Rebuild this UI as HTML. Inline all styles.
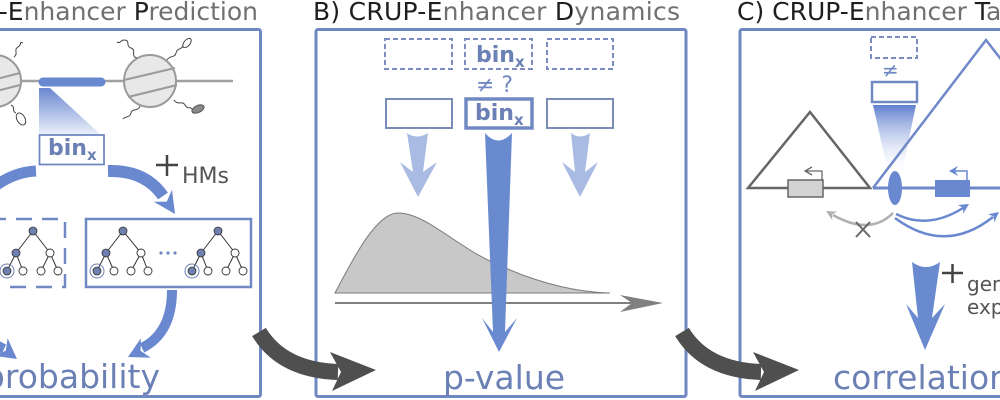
<!DOCTYPE html>
<html><head><meta charset="utf-8"><style>
html,body{margin:0;padding:0;background:#fff;}
svg{display:block;}
text{font-family:"DejaVu Sans","Liberation Sans",sans-serif;}
</style></head><body>
<svg width="1000" height="400" viewBox="0 0 1000 400" xmlns="http://www.w3.org/2000/svg">
<defs>
<linearGradient id="gA" x1="0" y1="0" x2="0" y2="1">
<stop offset="0" stop-color="#6a88d0"/><stop offset="1" stop-color="#e9eef9"/>
</linearGradient>
<linearGradient id="gC" x1="0" y1="0" x2="0" y2="1">
<stop offset="0" stop-color="#5f80cf"/><stop offset="1" stop-color="#ffffff" stop-opacity="0.2"/>
</linearGradient>
</defs>
<rect width="1000" height="400" fill="#fff"/>

<!-- Titles -->
<text x="258" y="20" font-size="25" text-anchor="end"><tspan fill="#1e1e1e">A) CRUP-E</tspan><tspan fill="#707070">nhancer </tspan><tspan fill="#1e1e1e">P</tspan><tspan fill="#707070">rediction</tspan></text>
<text x="313" y="20" font-size="25" textLength="367"><tspan fill="#1e1e1e">B) CRUP-E</tspan><tspan fill="#707070">nhancer </tspan><tspan fill="#1e1e1e">D</tspan><tspan fill="#707070">ynamics</tspan></text>
<text x="737" y="20" font-size="25"><tspan fill="#1e1e1e">C) CRUP-E</tspan><tspan fill="#707070">nhancer </tspan><tspan fill="#1e1e1e">T</tspan><tspan fill="#707070">argets</tspan></text>

<!-- Panel borders -->
<rect x="-10" y="29.5" width="270.5" height="367" rx="2" fill="none" stroke="#6f87c2" stroke-width="3"/>
<rect x="316" y="29.5" width="370" height="367" rx="2" fill="none" stroke="#6f87c2" stroke-width="3"/>
<rect x="740" y="29.5" width="300" height="367" rx="2" fill="none" stroke="#6f87c2" stroke-width="3"/>

<!-- ============ Panel A ============ -->
<line x1="0" y1="81" x2="233" y2="81" stroke="#a0a0a0" stroke-width="2.5"/>
<!-- left nucleosome -->
<circle cx="-5" cy="81" r="26" fill="#e8e8e8" stroke="#9a9a9a" stroke-width="2"/>
<line x1="-31" y1="86" x2="20" y2="73" stroke="#9a9a9a" stroke-width="2"/>
<line x1="-27" y1="97" x2="20" y2="85" stroke="#9a9a9a" stroke-width="2"/>
<path d="M14,57 C19,53 13,50 18,47 C23,44 18,41 23,43" fill="none" stroke="#444" stroke-width="1"/>
<path d="M11,105 C16,107 11,111 16,113" fill="none" stroke="#444" stroke-width="1"/>
<ellipse cx="21" cy="119" rx="4" ry="6.5" transform="rotate(-30 21 119)" fill="#fff" stroke="#444" stroke-width="1"/>
<!-- right nucleosome -->
<circle cx="150" cy="81" r="26" fill="#e8e8e8" stroke="#9a9a9a" stroke-width="2"/>
<line x1="124" y1="80" x2="175" y2="68" stroke="#9a9a9a" stroke-width="2"/>
<line x1="128" y1="97" x2="177" y2="85" stroke="#9a9a9a" stroke-width="2"/>
<path d="M137,58 C130,56 137,50 131,48 C125,46 131,40 124,40 C120,40 121,44 117,42" fill="none" stroke="#444" stroke-width="1"/>
<path d="M167,60 C170,55 175,58 176,53 C177,48 181,50 183,46" fill="none" stroke="#444" stroke-width="1"/>
<ellipse cx="187" cy="43" rx="5.5" ry="3" transform="rotate(-50 187 43)" fill="#fff" stroke="#444" stroke-width="1"/>
<path d="M174,100 C178,106 182,100 185,105 C188,110 190,106 192,109" fill="none" stroke="#444" stroke-width="1"/>
<ellipse cx="198" cy="109" rx="6.5" ry="3.5" transform="rotate(-25 198 109)" fill="#8a8a8a" stroke="#555" stroke-width="1"/>
<path d="M140,106 C138,112 132,108 131,113 C130,118 125,116 123,119" fill="none" stroke="#444" stroke-width="1"/>
<!-- blue bar + gradient -->
<polygon points="39,88 50,88 100,134 39,134" fill="url(#gA)"/>
<line x1="43" y1="82" x2="101" y2="82" stroke="#6a88d0" stroke-width="9" stroke-linecap="round"/>
<!-- binx box -->
<rect x="39.5" y="135" width="64.5" height="29.5" fill="#fff" stroke="#7189c2" stroke-width="1.8"/>
<text x="48" y="155" font-size="22" font-weight="bold" fill="#6b80b5">bin<tspan font-size="15" dy="5">x</tspan></text>
<!-- curved arrows top -->
<path d="M36,171 Q12,172 -10,190" fill="none" stroke="#6a88d0" stroke-width="11"/>
<path d="M108,171 Q145,170 163,196" fill="none" stroke="#6a88d0" stroke-width="12"/>
<polygon points="175,214 153.8,201.8 166.8,201.6 172,189.6" fill="#6a88d0"/>
<!-- + HMs -->
<line x1="156" y1="165" x2="178" y2="165" stroke="#444" stroke-width="2.5"/>
<line x1="167" y1="155" x2="167" y2="176" stroke="#444" stroke-width="2.5"/>
<text x="182" y="183" font-size="22" fill="#555">HMs</text>
<!-- boxes with trees -->
<rect x="-10" y="219" width="75" height="68" fill="none" stroke="#7189c2" stroke-width="2.5" stroke-dasharray="16 10"/>
<rect x="86" y="219" width="165" height="68" fill="none" stroke="#7189c2" stroke-width="2.5"/>
<g stroke="#333" stroke-width="1" fill="none">
<path d="M33,231 L16,253 M33,231 L50,253 M16,253 L7,271 M16,253 L23,271 M50,253 L41,271 M50,253 L58,271"/>
<path d="M123,231 L106,253 M123,231 L141,253 M106,253 L97,271 M106,253 L114,271 M141,253 L131,271 M141,253 L148,271"/>
<path d="M218,231 L201,253 M218,231 L235,253 M201,253 L192,271 M201,253 L208,271 M235,253 L226,271 M235,253 L243,271"/>
</g>
<g stroke="#6e7fb0" stroke-width="1" fill="none">
<circle cx="7" cy="271" r="7"/><circle cx="97" cy="271" r="7"/><circle cx="192" cy="271" r="7"/>
</g>
<g stroke="#333" stroke-width="0.8" fill="#6e7fb0">
<circle cx="33" cy="231" r="4"/><circle cx="16" cy="253" r="4"/><circle cx="7" cy="271" r="4"/>
<circle cx="123" cy="231" r="4"/><circle cx="106" cy="253" r="4"/><circle cx="97" cy="271" r="4"/>
<circle cx="218" cy="231" r="4"/><circle cx="201" cy="253" r="4"/><circle cx="192" cy="271" r="4"/>
</g>
<g stroke="#333" stroke-width="0.9" fill="#fff">
<circle cx="50" cy="253" r="4"/><circle cx="23" cy="271" r="4"/><circle cx="41" cy="271" r="4"/><circle cx="58" cy="271" r="4"/>
<circle cx="141" cy="253" r="4"/><circle cx="114" cy="271" r="4"/><circle cx="131" cy="271" r="4"/><circle cx="148" cy="271" r="4"/>
<circle cx="235" cy="253" r="4"/><circle cx="208" cy="271" r="4"/><circle cx="226" cy="271" r="4"/><circle cx="243" cy="271" r="4"/>
</g>
<g fill="#7189c2"><circle cx="161" cy="253" r="1.6"/><circle cx="168" cy="253" r="1.6"/><circle cx="175" cy="253" r="1.6"/></g>
<!-- bottom arrows A -->
<path d="M172,290 Q172,333 142,348" fill="none" stroke="#6a88d0" stroke-width="10"/>
<polygon points="128,357 140.9,338.2 140.5,350.7 150.8,357.8" fill="#6a88d0"/>
<path d="M-30,320 Q-15,340 4,349" fill="none" stroke="#6a88d0" stroke-width="10"/>
<polygon points="17,359 7.6,338.2 5.8,350.6 -5.6,355.8" fill="#6a88d0"/>
<text x="160" y="388" font-size="33" text-anchor="end" fill="#6b80b5">probability</text>

<!-- ============ Panel B ============ -->
<g fill="none" stroke="#7a8cbf" stroke-width="2" stroke-dasharray="5 3">
<rect x="385" y="39" width="67" height="30"/>
<rect x="465" y="39" width="67" height="30"/>
<rect x="547" y="39" width="66" height="30"/>
</g>
<text x="476" y="62" font-size="22" font-weight="bold" fill="#6b80b5">bin<tspan font-size="15" dy="5">x</tspan></text>
<text x="476" y="92" font-size="22" fill="#7189c2">≠ ?</text>
<rect x="386" y="99" width="66" height="29" fill="none" stroke="#7a8cb8" stroke-width="2"/>
<rect x="547" y="99" width="66" height="29" fill="none" stroke="#7a8cb8" stroke-width="2"/>
<rect x="466" y="99" width="66" height="29" fill="none" stroke="#7189c2" stroke-width="3.5"/>
<text x="475" y="120" font-size="22" font-weight="bold" fill="#6b80b5">bin<tspan font-size="15" dy="5">x</tspan></text>
<!-- light arrows -->
<path d="M407,133 Q417,140 428,133 L423,172 L437,162 L418,197 L400,162 L413,172 Z" fill="#a9bbe2"/>
<path d="M571,133 Q580,140 590,133 L585,172 L598,162 L580,197 L562,162 L575,172 Z" fill="#a9bbe2"/>
<!-- distribution -->
<path d="M335,293 C350,265 375,213 398,213 C425,213 455,245 492,262 C530,280 570,292 610,293 Z" fill="#c8c8c8" stroke="#7a7a7a" stroke-width="1"/>
<line x1="335" y1="303" x2="640" y2="303" stroke="#808080" stroke-width="2"/>
<polygon points="663,303 620,295 632,303 620,312" fill="#808080"/>
<!-- big arrow -->
<path d="M485,133 Q498,148 512,133 L505,332 L517,318 L499,352 L482,318 L493,332 Z" fill="#6a8ad0"/>
<text x="504" y="389" font-size="33" text-anchor="middle" fill="#6b80b5">p-value</text>

<!-- ============ Panel C ============ -->
<rect x="871" y="37" width="46" height="21" fill="none" stroke="#7a8cbf" stroke-width="2" stroke-dasharray="5 3"/>
<text x="882" y="77" font-size="20" fill="#7189c2">≠</text>
<rect x="872" y="82" width="45" height="20" fill="none" stroke="#7189c2" stroke-width="2.5"/>
<polygon points="873,105 916,105 902,172 888,172" fill="url(#gC)"/>
<!-- gray triangle & gene -->
<polygon points="748,188 810,112 870,188" fill="none" stroke="#666" stroke-width="2.5" stroke-linejoin="miter"/>
<rect x="788" y="180" width="35" height="17" fill="#d3d3d3" stroke="#666" stroke-width="1.5"/>
<path d="M822,180 V171 H806" fill="none" stroke="#666" stroke-width="1.3"/>
<path d="M812,167 L805,171 L812,175" fill="none" stroke="#666" stroke-width="1.3"/>
<!-- blue triangle & gene -->
<polyline points="873,188 986,40 1010,71" fill="none" stroke="#6f88c8" stroke-width="2.5"/>
<line x1="873" y1="188" x2="1000" y2="188" stroke="#6f88c8" stroke-width="3"/>
<ellipse cx="895" cy="188" rx="7" ry="17" fill="#6a88d0"/>
<rect x="935" y="180" width="35" height="17" fill="#6a88d0"/>
<path d="M967,180 V171 H954" fill="none" stroke="#6a88d0" stroke-width="1.5"/>
<polygon points="949,171 958,166 955,171 958,176" fill="#6a88d0"/>
<!-- interaction arrows -->
<path d="M893,213 Q870,236 833,215" fill="none" stroke="#b0b0b0" stroke-width="2.5"/>
<polygon points="826,211 837.2,211.6 832.1,214.4 832.3,220.3" fill="#b0b0b0"/>
<line x1="856" y1="222" x2="870" y2="237" stroke="#666" stroke-width="2"/>
<line x1="870" y1="222" x2="856" y2="237" stroke="#666" stroke-width="2"/>
<path d="M896,214 Q928,230 963,208" fill="none" stroke="#6a88d0" stroke-width="2.5"/>
<polygon points="969,204 957.9,205 963.1,207.7 963.2,213.6" fill="#6a88d0"/>
<path d="M895,218 Q945,255 993,217" fill="none" stroke="#6a88d0" stroke-width="2.5"/>
<polygon points="999,212 988.1,214.3 993.5,216.3 994.3,222.1" fill="#6a88d0"/>
<!-- big down arrow -->
<path d="M912,262 Q926,272 940,262 L932,318 L945,304 L925,350 L906,304 L918,318 Z" fill="#6a8ad0"/>
<line x1="942" y1="273" x2="963" y2="273" stroke="#444" stroke-width="2.5"/>
<line x1="952.5" y1="264" x2="952.5" y2="283" stroke="#444" stroke-width="2.5"/>
<text x="967" y="291" font-size="20" fill="#555">gene</text>
<text x="967" y="314" font-size="20" fill="#555">expression</text>
<text x="833" y="389" font-size="33" fill="#6b80b5">correlation</text>

<!-- gray connector arrows -->
<path d="M259,332 Q282,370 338,372" fill="none" stroke="#4f4f4f" stroke-width="16"/>
<polygon points="330,352 376,370 332,391 341,372" fill="#4f4f4f"/>
<path d="M682,332 Q705,370 761,372" fill="none" stroke="#4f4f4f" stroke-width="16"/>
<polygon points="753,352 799,370 755,391 764,372" fill="#4f4f4f"/>
</svg>
</body></html>
